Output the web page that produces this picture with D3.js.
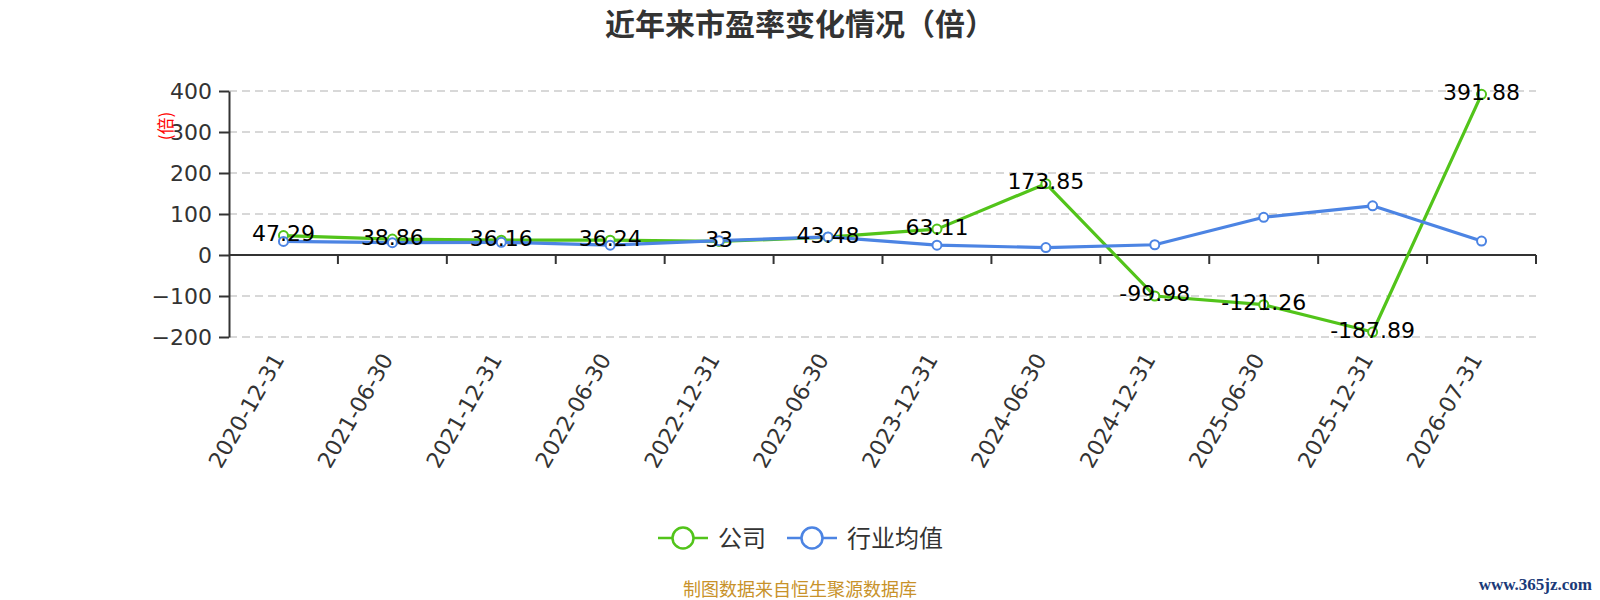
<!DOCTYPE html>
<html><head><meta charset="utf-8">
<script src="https://cdn.jsdelivr.net/npm/d3@7/dist/d3.min.js"></script>
<style>body{margin:0;background:#fff}svg{display:block}</style>
</head><body>
<svg id="c" width="1600" height="600"></svg>
<script>
const categories = ["2020-12-31","2021-06-30","2021-12-31","2022-06-30","2022-12-31","2023-06-30","2023-12-31","2024-06-30","2024-12-31","2025-06-30","2025-12-31","2026-07-31"];
const companyPE = [47.29,38.86,36.16,36.24,33,43.48,63.11,173.85,-99.98,-121.26,-187.89,391.88];
const industryPE = [33,30,31,24,35,44,24,18,25,92,120,34];
const yTicks = [-200,-100,0,100,200,300,400];
const seriesNames = ["公司","行业均值"];
const colors = ["#52C41A","#4C84E3"];

const svg = d3.select("#c");
const numFont = "DejaVu Sans, sans-serif";
const cjkFont = "'Noto Sans CJK SC', sans-serif";
const x = d3.scaleBand().domain(categories).range([229,1536]);
const y = d3.scaleLinear().domain([-200,400]).range([337,91]);
const cx = d => x(d) + x.bandwidth()/2;

// title
svg.append("text").attr("x",800).attr("y",35).attr("text-anchor","middle")
  .attr("font-family",cjkFont).attr("font-weight","bold").attr("font-size",30).attr("fill","#333")
  .text("近年来市盈率变化情况（倍）");

// grid
svg.append("g").selectAll("line").data(yTicks.filter(v=>v!==0)).join("line")
  .attr("x1",229).attr("x2",1536).attr("y1",d=>y(d)).attr("y2",d=>y(d))
  .attr("stroke","#ccc").attr("stroke-width",1.5).attr("stroke-dasharray","8,5");

// y axis
const ya = svg.append("g").attr("transform","translate(229,0)")
  .call(d3.axisLeft(y).tickValues(yTicks).tickSize(10).tickSizeOuter(0).tickPadding(7).tickFormat(d3.format("d")));
ya.select(".domain").attr("stroke","#333").attr("stroke-width",2);
ya.selectAll(".tick line").attr("stroke","#333").attr("stroke-width",2);
ya.selectAll(".tick text").attr("font-family",numFont).attr("font-size",22).attr("fill","#333");

// y name
svg.append("text").attr("transform","translate(172,126) rotate(-90)").attr("text-anchor","middle")
  .attr("font-family",cjkFont).attr("font-size",17).attr("fill","#f00").text("(倍)");

// x axis at zero
const y0 = y(0);
svg.append("line").attr("x1",229).attr("x2",1536).attr("y1",y0).attr("y2",y0)
  .attr("stroke","#333").attr("stroke-width",2);
const bounds = categories.map(c=>x(c)).concat([x.range()[1]]);
svg.append("g").selectAll("line").data(bounds.slice(1)).join("line")
  .attr("x1",d=>d).attr("x2",d=>d).attr("y1",y0).attr("y2",y0+9)
  .attr("stroke","#333").attr("stroke-width",2);
svg.append("g").selectAll("text").data(categories).join("text")
  .attr("transform",d=>`translate(${cx(d)+1.5},359) rotate(-60)`)
  .attr("text-anchor","end").attr("font-family",numFont).attr("font-size",22).attr("fill","#333")
  .text(d=>d);

// lines
const series = [companyPE, industryPE];
const line = d3.line().x((d,i)=>cx(categories[i])).y(d=>y(d));
series.forEach((s,k)=>{
  svg.append("path").datum(s).attr("d",line).attr("fill","none")
    .attr("stroke",colors[k]).attr("stroke-width",3.2).attr("stroke-linejoin","round");
});
series.forEach((s,k)=>{
  svg.append("g").selectAll("circle").data(s).join("circle")
    .attr("cx",(d,i)=>cx(categories[i])).attr("cy",d=>y(d)).attr("r",4.5)
    .attr("fill","#fff").attr("stroke",colors[k]).attr("stroke-width",2);
});
// labels for company
svg.append("g").selectAll("text").data(companyPE).join("text")
  .attr("x",(d,i)=>cx(categories[i])).attr("y",d=>y(d)+5.5)
  .attr("text-anchor","middle").attr("font-family",numFont).attr("font-size",22).attr("fill","#000")
  .text(d=>String(d));

// legend
const legX = [658, 787];
seriesNames.forEach((n,k)=>{
  const g = svg.append("g").attr("transform",`translate(${legX[k]},538)`);
  g.append("line").attr("x1",0).attr("x2",50).attr("y1",0).attr("y2",0).attr("stroke",colors[k]).attr("stroke-width",2.5);
  g.append("circle").attr("cx",25).attr("cy",0).attr("r",10.5).attr("fill","#fff").attr("stroke",colors[k]).attr("stroke-width",2.5);
  g.append("text").attr("x",60).attr("y",9).attr("font-family",cjkFont).attr("font-size",24).attr("fill","#333").text(n);
});

// footer
svg.append("text").attr("x",800).attr("y",596).attr("text-anchor","middle")
  .attr("font-family",cjkFont).attr("font-size",18).attr("fill","#C8922A").text("制图数据来自恒生聚源数据库");
svg.append("text").attr("x",1592).attr("y",590).attr("text-anchor","end")
  .attr("font-family","'Liberation Serif', serif").attr("font-weight","bold").attr("font-size",17).attr("fill","#1B3A78").text("www.365jz.com");
</script>
</body></html>
